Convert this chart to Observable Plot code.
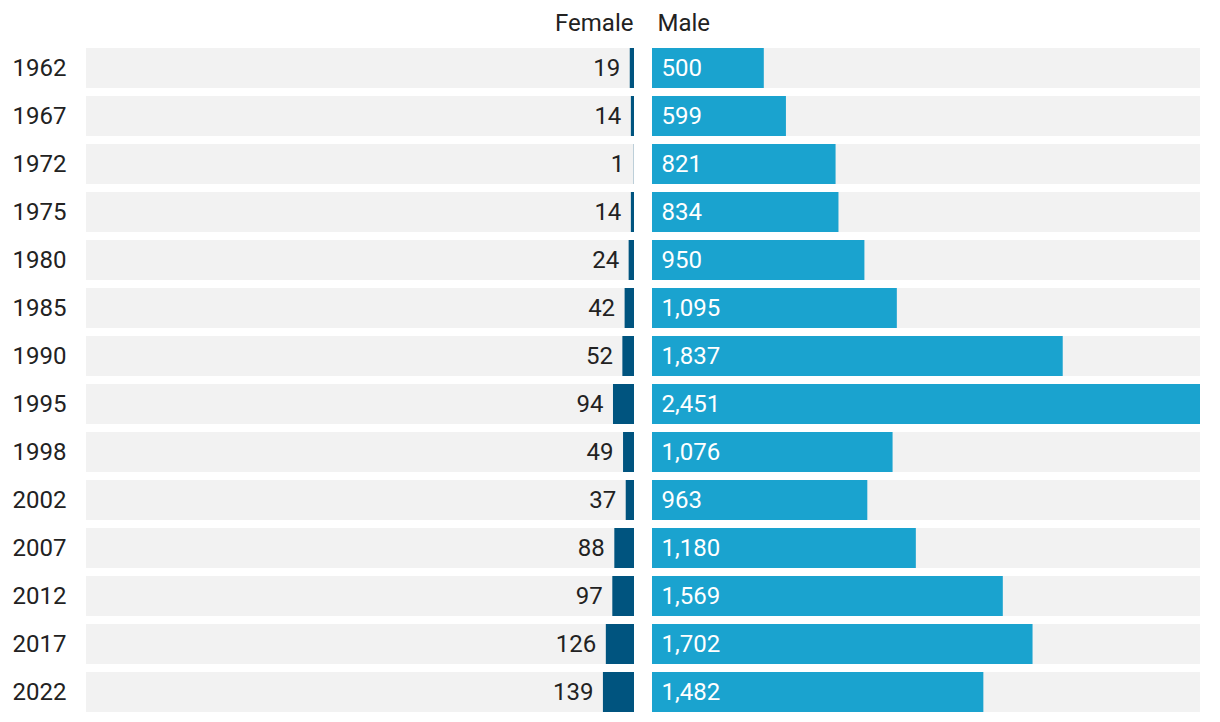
<!DOCTYPE html>
<html>
<head>
<meta charset="utf-8">
<script src="https://cdn.jsdelivr.net/npm/d3@7"></script>
<script src="https://cdn.jsdelivr.net/npm/@observablehq/plot@0.6"></script>
<style>
  html, body { margin: 0; padding: 0; background: #fff; }
  #chart svg { display: block; }
</style>
</head>
<body>
<div id="chart"></div>
<script>
const years = ["1962","1967","1972","1975","1980","1985","1990","1995","1998","2002","2007","2012","2017","2022"];
const female = [19,14,1,14,24,42,52,94,49,37,88,97,126,139];
const male = [500,599,821,834,950,1095,1837,2451,1076,963,1180,1569,1702,1482];
const headers = ["Female", "Male"];

const rows = years.map((y, i) => ({year: y, female: female[i], male: male[i]}));
const maxV = d3.max(male.concat(female));
const fmt = d3.format(",");
const gap = 9;
const font = "Roboto, 'Noto Sans', sans-serif";

const chart = Plot.plot({
  width: 1220,
  height: 722,
  marginTop: 48,
  marginBottom: 10,
  marginLeft: 95,
  marginRight: 29,
  style: {fontFamily: font, fontSize: "24px", color: "#222", background: "#fff"},
  x: {domain: [-maxV, maxV], axis: null},
  y: {domain: years, paddingInner: 1/6, paddingOuter: 0, axis: null},
  marks: [
    Plot.barX(rows, {y: "year", x1: -maxV, x2: 0, fill: "#f2f2f2", dx: -gap}),
    Plot.barX(rows, {y: "year", x1: 0, x2: maxV, fill: "#f2f2f2", dx: gap}),
    Plot.barX(rows, {y: "year", x1: d => -d.female, x2: 0, fill: "#00547f", dx: -gap}),
    Plot.barX(rows, {y: "year", x1: 0, x2: "male", fill: "#1aa3cf", dx: gap}),
    Plot.text(rows, {y: "year", x: d => -d.female, text: d => fmt(d.female), textAnchor: "end", dx: -gap - 10, fill: "#222", fontSize: 24}),
    Plot.text(rows, {y: "year", x: 0, text: d => fmt(d.male), textAnchor: "start", dx: gap + 9, fill: "#fff", fontSize: 24}),
    Plot.text(rows, {y: "year", text: "year", frameAnchor: "left", textAnchor: "start", dx: -83, fill: "#222", fontSize: 24}),
    Plot.text([headers[0]], {x: 0, text: d => d, frameAnchor: "top", lineAnchor: "middle", textAnchor: "end", dx: -gap - 1, dy: -25, fill: "#222", fontSize: 24}),
    Plot.text([headers[1]], {x: 0, text: d => d, frameAnchor: "top", lineAnchor: "middle", textAnchor: "start", dx: gap + 5, dy: -25, fill: "#222", fontSize: 24})
  ]
});
document.getElementById("chart").appendChild(chart);
</script>
</body>
</html>
